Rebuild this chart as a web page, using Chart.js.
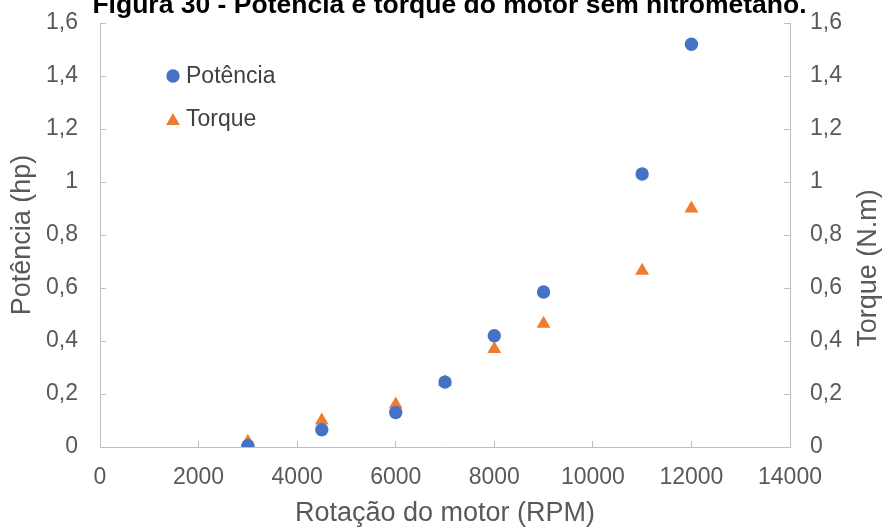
<!DOCTYPE html>
<html>
<head>
<meta charset="utf-8">
<script src="https://cdn.jsdelivr.net/npm/chart.js@4/dist/chart.umd.min.js"></script>
<style>
  html, body { margin: 0; padding: 0; background: #fff; }
  #chart { display: block; }
</style>
</head>
<body>
<canvas id="chart" width="885" height="529"></canvas>
<script>
// Dados
const rpm = [3000, 4500, 6000, 7000, 8000, 9000, 11000, 12000];
const potencia = [0.005, 0.065, 0.13, 0.245, 0.42, 0.585, 1.03, 1.52];
const torque = [0.02, 0.10, 0.16, 0.245, 0.37, 0.465, 0.665, 0.90];

const xTickLabels = ['0', '2000', '4000', '6000', '8000', '10000', '12000', '14000'];
const yTickLabels = ['0', '0,2', '0,4', '0,6', '0,8', '1', '1,2', '1,4', '1,6'];

const chartTitle = 'Figura 30 - Potência e torque do motor sem nitrometano.';
const xTitle = 'Rotação do motor (RPM)';
const yTitle = 'Potência (hp)';
const y1Title = 'Torque (N.m)';

const blue = '#4472C4';
const orange = '#ED7D31';
const axisGray = '#BFBFBF';
const labelGray = '#595959';
const fontFamily = "'Liberation Sans', Arial, sans-serif";

Chart.defaults.font.family = fontFamily;

// titulo, titulo do eixo direito e legenda
const overlay = {
  id: 'overlay',
  afterDraw(chart) {
    const c = chart.ctx;
    const area = chart.chartArea;
    c.save();

    c.fillStyle = '#000';
    c.font = 'bold 26.5px ' + fontFamily;
    c.textAlign = 'center';
    c.textBaseline = 'alphabetic';
    c.fillText(chartTitle, 449.5, 12.5);

    c.fillStyle = labelGray;
    c.font = '27px ' + fontFamily;
    c.textBaseline = 'middle';
    c.translate(869, 268);
    c.rotate(-Math.PI / 2);
    c.fillText(y1Title, 0, 0);
    c.setTransform(1, 0, 0, 1, 0, 0);

    // legenda
    const lx = area.left + 73;
    const ly = area.top + 53;
    c.fillStyle = blue;
    c.beginPath();
    c.arc(lx, ly, 6.7, 0, Math.PI * 2);
    c.fill();
    const r = 8;
    const ty = ly + 45;
    c.fillStyle = orange;
    c.beginPath();
    c.moveTo(lx, ty - r);
    c.lineTo(lx + r * Math.sin(Math.PI / 3), ty + r / 2);
    c.lineTo(lx - r * Math.sin(Math.PI / 3), ty + r / 2);
    c.closePath();
    c.fill();

    c.fillStyle = '#404040';
    c.font = '23px ' + fontFamily;
    c.textAlign = 'left';
    c.textBaseline = 'middle';
    c.fillText(chart.data.datasets[0].label, lx + 13, ly + 1);
    c.fillText(chart.data.datasets[1].label, lx + 13, ty - 1);
    c.restore();
  }
};

const axisGrid = { drawOnChartArea: false, drawTicks: true, tickLength: -6, color: axisGray };
const axisBorder = { display: true, color: axisGray, width: 1 };

function fixSize(prop, size) {
  return function (scale) {
    scale[prop] = size;
    scale.paddingTop = 0;
    scale.paddingBottom = 0;
    scale.paddingLeft = 0;
    scale.paddingRight = 0;
  };
}

const ctx = document.getElementById('chart').getContext('2d');
const chart = new Chart(ctx, {
  type: 'scatter',
  data: {
    datasets: [
      {
        label: 'Potência',
        data: rpm.map((x, i) => ({ x: x, y: potencia[i] })),
        backgroundColor: blue,
        borderColor: blue,
        pointStyle: 'circle',
        pointRadius: 6.7,
        pointBorderWidth: 0,
        yAxisID: 'y'
      },
      {
        label: 'Torque',
        data: rpm.map((x, i) => ({ x: x, y: torque[i] })),
        backgroundColor: orange,
        borderColor: orange,
        pointStyle: 'triangle',
        pointRadius: 8,
        pointBorderWidth: 0,
        yAxisID: 'y1'
      }
    ]
  },
  options: {
    responsive: false,
    animation: false,
    layout: { padding: { top: 23, left: 0, right: 0, bottom: 0 } },
    plugins: {
      legend: { display: false },
      tooltip: { enabled: false },
      title: { display: false }
    },
    scales: {
      x: {
        type: 'linear',
        min: 0,
        max: 14000,
        afterFit: fixSize('height', 82),
        ticks: {
          stepSize: 2000,
          padding: 23,
          maxRotation: 0,
          autoSkip: false,
          color: labelGray,
          font: { size: 23 },
          callback: (v) => xTickLabels[Math.round(v / 2000)]
        },
        grid: axisGrid,
        border: axisBorder,
        title: {
          display: true,
          text: xTitle,
          color: labelGray,
          font: { size: 27 },
          padding: { top: 0, bottom: -1 }
        }
      },
      y: {
        position: 'left',
        min: 0,
        max: 1.6,
        afterFit: fixSize('width', 100),
        ticks: {
          stepSize: 0.2,
          padding: 28,
          color: labelGray,
          font: { size: 23 },
          callback: (v) => yTickLabels[Math.round(v / 0.2)]
        },
        grid: axisGrid,
        border: axisBorder,
        title: {
          display: true,
          text: yTitle,
          color: labelGray,
          font: { size: 27 },
          padding: { top: 6, bottom: 0 }
        }
      },
      y1: {
        position: 'right',
        min: 0,
        max: 1.6,
        afterFit: fixSize('width', 95),
        ticks: {
          stepSize: 0.2,
          padding: 26,
          color: labelGray,
          font: { size: 23 },
          callback: (v) => yTickLabels[Math.round(v / 0.2)]
        },
        grid: axisGrid,
        border: axisBorder
      }
    }
  },
  plugins: [overlay]
});
</script>
</body>
</html>
